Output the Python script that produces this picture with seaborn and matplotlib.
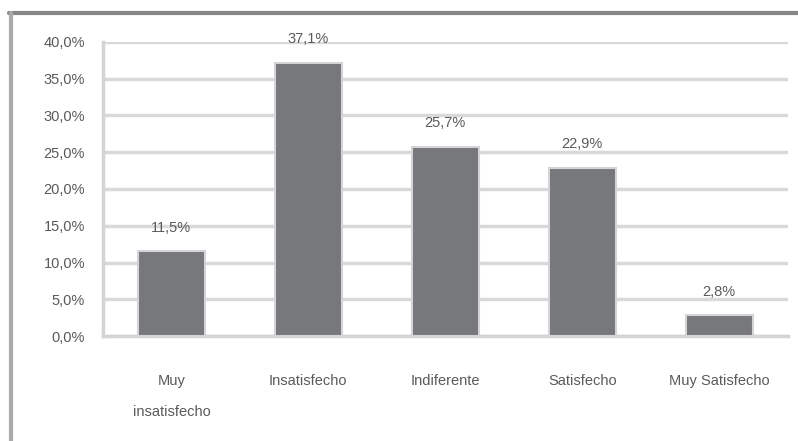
import matplotlib
matplotlib.use("Agg")
import matplotlib.pyplot as plt
import seaborn as sns
import pandas as pd
from matplotlib.lines import Line2D

# Data
categories = ["Muy\ninsatisfecho", "Insatisfecho", "Indiferente", "Satisfecho", "Muy Satisfecho"]
values = [11.5, 37.1, 25.7, 22.9, 2.8]
yticks = [0, 5, 10, 15, 20, 25, 30, 35, 40]

df = pd.DataFrame({"categoria": categories, "porcentaje": values})

sns.set_theme(style="white")
plt.rcParams['font.family'] = ['Liberation Sans Narrow', 'Liberation Sans', 'DejaVu Sans']

fig = plt.figure(figsize=(7.98, 4.41), dpi=100)
ax = fig.add_axes([0.129, 0.238, 0.858, 0.667])

sns.barplot(data=df, x="categoria", y="porcentaje", color="#77787c",
            width=0.49, edgecolor="#d4d4d6", linewidth=1.5, saturation=1, ax=ax, zorder=3)

text_color = "#5a5a5a"
ax.set_ylim(0, 40)
ax.set_xlim(-0.5, len(categories) - 0.5)
ax.set_yticks(yticks)
ax.set_yticklabels([f"{t:.1f}".replace(".", ",") + "%" for t in yticks],
                   fontsize=10.5, color=text_color)
ax.set_xticks(range(len(categories)))
ax.set_xticklabels(categories, fontsize=10.5, color=text_color, linespacing=2.6)
ax.tick_params(axis="x", length=0, pad=27)
ax.tick_params(axis="y", length=5, color="#d4d4d6", width=2, pad=8)

# minor ticks between categories on the x axis
ax.set_xticks([i - 0.5 for i in range(len(categories) + 1)], minor=True)
ax.tick_params(axis="x", which="minor", length=6, color="#d4d4d6", width=2)

ax.yaxis.grid(True, color="#d9d9d9", linewidth=2.5, zorder=0)
ax.set_axisbelow(True)
for side in ["top", "right"]:
    ax.spines[side].set_visible(False)
for side in ["left", "bottom"]:
    ax.spines[side].set_color("#d4d4d6")
    ax.spines[side].set_linewidth(2.5)

ax.set_xlabel("")
ax.set_ylabel("")

for i, v in enumerate(values):
    ax.text(i, v + 2.3, f"{v:.1f}".replace(".", ",") + "%", ha="center", va="bottom",
            fontsize=10.5, color=text_color)

# outer frame (top and left edges)
fig.add_artist(Line2D([0.011, 1.0], [0.971, 0.971], color="#878787", linewidth=3,
                      transform=fig.transFigure))
fig.add_artist(Line2D([0.014, 0.014], [0.0, 0.971], color="#aaaaaa", linewidth=3,
                      transform=fig.transFigure))

fig.savefig("out.png", dpi=100)
